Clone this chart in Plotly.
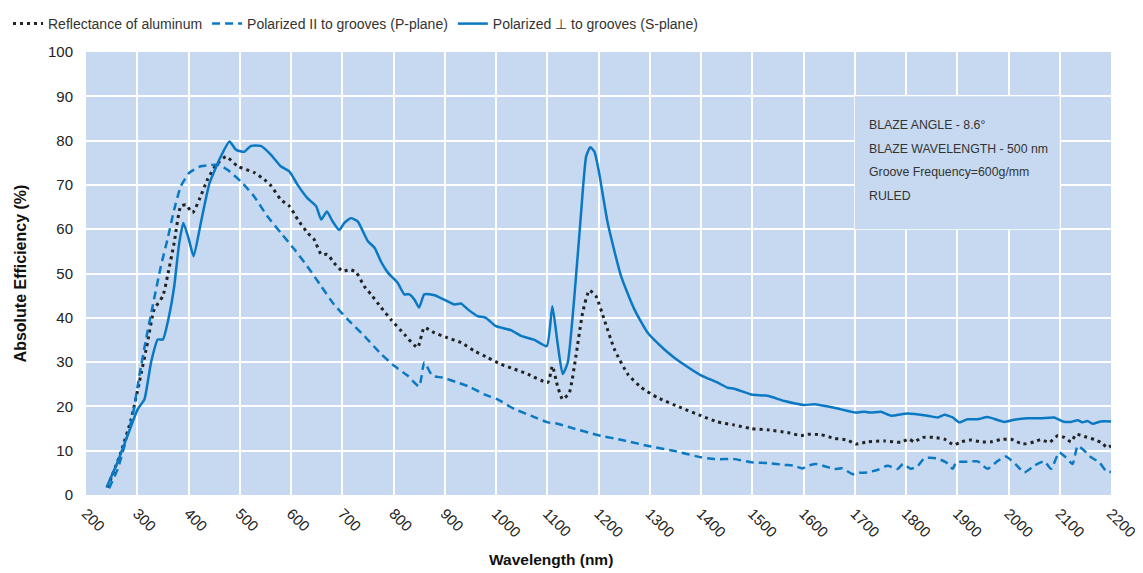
import plotly.graph_objects as go

# ---------------- data ----------------
s_wl = [240, 260, 281, 301, 314, 327, 340, 350, 362, 372, 382, 390, 400, 410, 424, 441, 463, 480, 493,
        509, 522, 541, 561, 580, 597, 613, 632, 649, 659, 670, 681, 694, 704, 717, 730, 750, 763, 776,
        789, 808, 821, 831, 841, 850, 860, 880, 899, 919, 932, 945, 964, 980, 1000, 1029, 1049, 1075,
        1099, 1110, 1120, 1130, 1140, 1153, 1166, 1176, 1184, 1192, 1200, 1218, 1244, 1270, 1296, 1328,
        1348, 1361, 1400, 1432, 1452, 1465, 1498, 1530, 1563, 1602, 1621, 1660, 1702, 1719, 1732, 1751,
        1771, 1803, 1842, 1862, 1875, 1891, 1904, 1920, 1940, 1959, 1992, 2011, 2037, 2063, 2089, 2106,
        2122, 2135, 2145, 2154, 2164, 2180, 2200]
s_val = [1.7, 7.0, 13.4, 19.4, 21.6, 30.0, 35.1, 35.1, 40.4, 47.0, 57.0, 61.4, 58.0, 53.9, 61.4, 70.4,
         76.4, 79.8, 77.9, 77.5, 78.8, 78.8, 76.8, 74.2, 73.0, 70.0, 67.0, 65.2, 62.2, 64.0, 61.8, 59.8,
         61.4, 62.5, 61.8, 57.3, 55.8, 52.6, 50.2, 47.9, 45.3, 45.3, 44.1, 42.3, 45.3, 45.1, 44.1, 43.0,
         43.2, 41.9, 40.4, 40.0, 38.1, 37.2, 35.9, 35.0, 33.6, 42.6, 34.4, 27.3, 29.9, 44.9, 63.7, 76.5,
         78.5, 77.5, 73.5, 61.4, 49.4, 41.9, 36.6, 32.9, 31.0, 29.9, 27.0, 25.4, 24.2, 24.0, 22.7, 22.4,
         21.2, 20.3, 20.5, 19.7, 18.6, 18.8, 18.6, 18.8, 17.9, 18.4, 17.9, 17.5, 18.1, 17.5, 16.4, 17.1,
         17.1, 17.6, 16.5, 17.0, 17.3, 17.3, 17.5, 16.6, 16.5, 16.9, 16.4, 16.7, 16.1, 16.6, 16.6]

al_wl = [242, 268, 288, 304, 320, 333, 350, 359, 372, 385, 395, 408, 421, 437, 454, 473, 496, 528, 548,
         561, 580, 597, 613, 632, 645, 659, 671, 684, 701, 714, 727, 743, 756, 776, 795, 821, 847, 860,
         880, 905, 932, 958, 984, 1010, 1036, 1062, 1101, 1110, 1120, 1130, 1143, 1156, 1169, 1182, 1195,
         1212, 1231, 1257, 1283, 1315, 1361, 1400, 1432, 1465, 1498, 1530, 1569, 1595, 1608, 1634, 1660,
         1686, 1702, 1725, 1758, 1790, 1806, 1816, 1832, 1855, 1875, 1894, 1907, 1927, 1946, 1966, 1985,
         2005, 2028, 2050, 2063, 2080, 2096, 2109, 2122, 2132, 2148, 2168, 2180, 2193, 2200]
al_val = [1.7, 9.6, 17.1, 25.4, 34.4, 41.9, 44.9, 49.4, 56.9, 65.2, 65.5, 63.7, 66.7, 71.2, 74.5, 76.4,
          74.2, 72.8, 71.2, 69.8, 66.7, 65.2, 62.2, 59.2, 57.7, 54.3, 54.3, 52.4, 50.5, 50.9, 50.3, 47.1,
          45.3, 42.3, 39.6, 36.3, 33.3, 37.8, 36.6, 35.5, 34.4, 32.5, 31.0, 29.5, 28.4, 27.3, 25.4, 29.1,
          24.6, 21.6, 23.1, 31.4, 41.1, 46.2, 44.9, 39.3, 32.9, 27.3, 24.3, 22.0, 19.7, 17.9, 16.5, 15.8,
          15.0, 14.7, 14.1, 13.4, 13.7, 13.6, 12.8, 12.4, 11.5, 12.0, 12.2, 11.9, 12.6, 12.0, 13.0, 13.0,
          12.6, 11.3, 12.0, 12.4, 12.0, 12.0, 12.5, 12.6, 11.5, 12.0, 12.5, 11.9, 13.4, 13.0, 12.0, 13.7,
          13.2, 12.5, 11.9, 10.7, 11.1]

p_wl = [245, 262, 275, 291, 304, 317, 330, 346, 359, 372, 385, 402, 424, 444, 460, 476, 502, 528, 554,
        580, 607, 632, 659, 684, 711, 743, 776, 802, 828, 850, 860, 876, 896, 925, 951, 977, 1003, 1036,
        1068, 1101, 1120, 1146, 1200, 1250, 1300, 1350, 1400, 1426, 1465, 1498, 1530, 1563, 1582, 1598,
        1608, 1624, 1641, 1660, 1676, 1696, 1709, 1725, 1745, 1764, 1784, 1794, 1810, 1823, 1836, 1859,
        1878, 1891, 1898, 1920, 1940, 1959, 1979, 1995, 2015, 2031, 2050, 2070, 2083, 2099, 2112, 2125,
        2135, 2148, 2161, 2177, 2190, 2200]
p_val = [1.5, 5.9, 11.1, 17.9, 26.9, 35.1, 42.6, 51.6, 57.7, 64.4, 69.7, 72.8, 74.2, 74.5, 74.5, 73.4,
         70.8, 67.4, 62.9, 59.2, 55.4, 51.6, 47.1, 43.0, 39.6, 35.9, 31.8, 29.1, 26.9, 24.5, 29.9, 26.9,
         26.5, 25.4, 24.3, 22.7, 21.6, 19.4, 17.9, 16.4, 16.1, 15.2, 13.5, 12.3, 11.0, 9.9, 8.5, 8.1, 8.1,
         7.4, 7.2, 6.8, 6.6, 6.0, 6.6, 7.0, 6.5, 5.9, 6.0, 4.7, 5.0, 5.1, 5.7, 6.6, 5.9, 7.0, 5.9, 6.6,
         8.3, 8.3, 7.4, 5.9, 7.4, 7.5, 7.6, 5.9, 7.7, 8.7, 6.8, 5.1, 6.6, 7.6, 5.9, 9.6, 8.5, 7.0, 11.1,
         10.0, 8.5, 7.4, 5.5, 5.2]

x_ticks = list(range(200, 2201, 100))
y_ticks = list(range(0, 101, 10))

names = ["Reflectance of aluminum", "Polarized II to grooves (P-plane)", "Polarized ⊥ to grooves (S-plane)"]
info_lines = ["BLAZE ANGLE - 8.6°", "BLAZE WAVELENGTH - 500 nm", "Groove Frequency=600g/mm", "RULED"]
info_y = [83.6, 78.2, 73.0, 67.6]

# ---------------- figure ----------------
BG = "#c6d9f0"
BLUE = "#0a78c3"
FONT = "Liberation Sans, Arial, sans-serif"

fig = go.Figure()
fig.add_trace(go.Scatter(x=al_wl, y=al_val, name=names[0], mode="lines",
                         line=dict(color="#222222", width=3, dash="3px,4px", shape="spline", smoothing=0.5)))
fig.add_trace(go.Scatter(x=p_wl, y=p_val, name=names[1], mode="lines",
                         line=dict(color=BLUE, width=2.5, dash="8px,5px", shape="spline", smoothing=0.5)))
fig.add_trace(go.Scatter(x=s_wl, y=s_val, name=names[2], mode="lines",
                         line=dict(color=BLUE, width=2.5, shape="spline", smoothing=0.5)))

fig.add_shape(type="rect", x0=1700, x1=2100, y0=60, y1=90, xref="x", yref="y",
              fillcolor=BG, line=dict(width=0), layer="between")
for t, yy in zip(info_lines, info_y):
    fig.add_annotation(x=1723, y=yy, text=t, showarrow=False, xanchor="left", yanchor="middle",
                       font=dict(size=12.3, color="#333333", family=FONT))

fig.add_annotation(x=0.454, y=-0.146, xref="paper", yref="paper", yanchor="middle",
                   text="<b>Wavelength (nm)</b>", showarrow=False,
                   font=dict(size=15.5, color="#111111", family=FONT))

fig.update_layout(
    width=1135, height=565,
    margin=dict(l=78, r=32, t=44, b=78, autoexpand=False),
    paper_bgcolor="white", plot_bgcolor=BG,
    font=dict(family=FONT, size=13, color="#222222"),
    showlegend=True,
    legend=dict(orientation="h", xref="container", yref="container", x=0.0, y=1.0,
                xanchor="left", yanchor="top", font=dict(size=14, color="#333333"),
                bgcolor="rgba(0,0,0,0)"),
    xaxis=dict(range=[200, 2200], tickvals=x_ticks, ticktext=[str(v) for v in x_ticks],
               tickangle=45, showgrid=True, gridcolor="white", gridwidth=2, zeroline=False,
               showline=False, ticks="", automargin=False, ticklabelstandoff=6,
               tickfont=dict(size=15, color="#222222")),
    yaxis=dict(range=[0, 100], tickvals=y_ticks, showgrid=True, gridcolor="white", gridwidth=2,
               zeroline=False, showline=False, ticks="", ticklen=0, automargin=False,
               ticklabelstandoff=12,
               tickfont=dict(size=15, color="#222222"),
               title=dict(text="<b>Absolute Efficiency (%)</b>", font=dict(size=16, color="#111111"),
                          standoff=17)),
)

fig.write_html("out.html")
